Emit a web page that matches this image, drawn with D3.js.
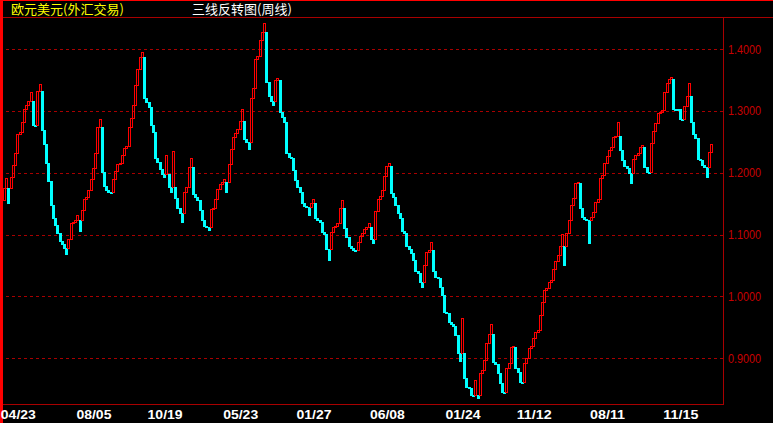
<!DOCTYPE html>
<html><head><meta charset="utf-8">
<script src="https://cdn.jsdelivr.net/npm/d3@7"></script>
<style>html,body{margin:0;padding:0;background:#000;overflow:hidden}</style>
</head><body>
<svg id="c" width="773" height="423"></svg>
<script>
// Three-line-break closes (weekly EUR/USD), in drawing order
const closes = [
1.1751,1.1913,1.1508,1.1939,1.2128,1.2317,1.2625,1.2657,1.2819,1.3029,
1.3099,1.3163,1.3309,1.2775,1.2764,1.3325,1.3438,1.2694,1.2463,1.2165,
1.1869,1.1481,1.1265,1.1157,1.1023,1.0898,1.0849,1.0780,1.0692,1.0926,
1.1194,1.1210,1.1238,1.1319,1.1060,1.1400,1.1578,1.1605,1.1723,1.1896,
1.2074,1.2327,1.2738,1.2867,1.2019,1.1793,1.1723,1.1696,1.1680,1.1896,
1.2031,1.2144,1.2155,1.2290,1.2408,1.2435,1.2738,1.2884,1.3099,1.3422,
1.3676,1.3871,1.3951,1.3207,1.3142,1.3062,1.2775,1.2667,1.2246,1.2171,
1.2058,1.1982,1.1939,1.2290,1.1777,1.1696,1.2354,1.1599,1.1437,1.1346,
1.1210,1.1686,1.1767,1.2091,1.2236,1.1654,1.1615,1.1561,1.1400,1.1238,
1.1146,1.1129,1.1076,1.1416,1.1427,1.1573,1.1739,1.1820,1.1858,1.1896,
1.1696,1.2144,1.2387,1.2576,1.2650,1.2705,1.2835,1.3029,1.2544,1.2505,
1.2392,1.3207,1.3369,1.3838,1.3892,1.4150,1.4285,1.4426,1.3476,1.3244,
1.3168,1.3099,1.3503,1.3531,1.2990,1.2900,1.2819,1.2317,1.2262,1.2236,
1.2047,1.1885,1.1777,1.1696,1.1508,1.1469,1.1453,1.1319,1.1508,1.1573,
1.1265,1.1238,1.1210,1.1049,1.1006,1.0764,1.0591,1.1049,1.1129,1.1146,
1.1184,1.1427,1.1561,1.1104,1.0958,1.0822,1.0780,1.0752,1.0741,1.0877,
1.0979,1.1023,1.1087,1.1120,1.1184,1.0930,1.0871,1.1384,1.1573,1.1626,
1.1723,1.1950,1.2112,1.2155,1.1670,1.1615,1.1481,1.1356,1.1265,1.1065,
1.1023,1.0822,1.0764,1.0699,1.0591,1.0417,1.0375,1.0239,1.0158,1.0510,
1.0725,1.0752,1.0877,1.0413,1.0311,1.0294,1.0158,1.0024,0.9754,0.9738,
0.9592,0.9555,0.9523,0.9377,0.9081,0.8961,0.9647,0.8676,0.8540,0.8524,
0.8406,0.8390,0.8649,0.8362,0.8757,0.8811,0.8973,0.9243,0.9393,0.9555,
0.8945,0.8908,0.8757,0.8595,0.8460,0.8447,0.8838,0.8919,0.9188,0.9199,
0.8838,0.8773,0.8621,0.8605,0.8919,0.9000,0.9162,0.9199,0.9324,0.9430,
0.9458,0.9701,0.9916,1.0105,1.0133,1.0239,1.0267,1.0440,1.0579,1.0671,
1.0817,1.1006,1.0510,1.1023,1.1238,1.1481,1.1589,1.1832,1.1858,1.1427,
1.1281,1.1254,1.1238,1.0866,1.1291,1.1372,1.1524,1.1573,1.1913,1.1966,
1.2165,1.2273,1.2371,1.2424,1.2586,1.2597,1.2828,1.2371,1.2209,1.2112,
1.2084,1.1994,1.1832,1.2220,1.2285,1.2317,1.2414,1.2447,1.2100,1.2019,
1.2003,1.2479,1.2683,1.2803,1.2964,1.2985,1.3013,1.3304,1.3460,1.3524,
1.3557,1.3039,1.3034,1.3029,1.2867,1.2862,1.3082,1.3244,1.3450,1.2824,
1.2629,1.2560,1.2220,1.2209,1.2128,1.2100,1.1939,1.2343,1.2463
];
const firstOpen = 1.1561;
const yTicks = [0.9, 1.0, 1.1, 1.2, 1.3, 1.4];
const xTickLabels = ["04/23","08/05","10/19","05/23","01/27","06/08","01/24","11/12","08/11","11/15"];
const xTickIndex = [6, 40, 72, 106, 139, 172, 206, 238, 271, 304];
const titleLeft = "欧元美元(外汇交易)";
const titleMid = "三线反转图(周线)";

// build bricks with three-line-break opening rule
const bricks = [];
closes.forEach((c, i) => {
  let o;
  if (i === 0) o = firstOpen;
  else {
    const p = bricks[i - 1];
    if (p.c > p.o) o = c > p.c ? p.c : p.o;
    else o = c < p.c ? p.c : p.o;
  }
  bricks.push({ i, o, c, up: c > o });
});

const W = 773, H = 423;
const svg = d3.select("#c");
svg.append("rect").attr("width", W).attr("height", H).attr("fill", "#000");

const x = d3.scaleLinear().domain([0, closes.length - 1]).range([3, 710]);
const y = d3.scaleLinear().domain([0.8244, 1.449]).range([405, 19]);

const GRID = "#a80000";
// right axis with dashed grid
const yAxis = d3.axisRight(y).tickValues(yTicks).tickSize(-720).tickPadding(5)
  .tickFormat(d3.format(".4f"));
const gy = svg.append("g").attr("transform", "translate(723,0)").call(yAxis);
gy.select(".domain").remove();
gy.selectAll(".tick line").attr("stroke", GRID).attr("stroke-dasharray", "3,3")
  .attr("shape-rendering", "crispEdges");
gy.selectAll(".tick text").attr("fill", "#c80000").attr("font-family", "Liberation Sans")
  .attr("font-size", 12).attr("textLength", 33).attr("lengthAdjust", "spacingAndGlyphs");

// bricks
const gb = svg.append("g").attr("shape-rendering", "crispEdges");
bricks.forEach(b => {
  const bx = Math.round(x(b.i));
  const y1 = Math.round(y(Math.max(b.o, b.c)));
  const y2 = Math.round(y(Math.min(b.o, b.c)));
  if (b.up) {
    gb.append("rect").attr("x", bx + 0.5).attr("y", y1 + 0.5)
      .attr("width", 2).attr("height", Math.max(1, y2 - y1))
      .attr("fill", "none").attr("stroke", "#ff0000").attr("stroke-width", 1);
  } else {
    gb.append("rect").attr("x", bx).attr("y", y1)
      .attr("width", 3).attr("height", Math.max(2, y2 - y1 + 1))
      .attr("fill", "#00ffff");
  }
});

// frame lines
const frame = svg.append("g").attr("shape-rendering", "crispEdges");
frame.append("line").attr("x1", 0).attr("x2", W).attr("y1", 0.5).attr("y2", 0.5).attr("stroke", "#ff0000");
frame.append("line").attr("x1", 0).attr("x2", W).attr("y1", 17.5).attr("y2", 17.5).attr("stroke", GRID);
frame.append("line").attr("x1", 0).attr("x2", 723).attr("y1", 404.5).attr("y2", 404.5).attr("stroke", GRID);
frame.append("line").attr("x1", 723.5).attr("x2", 723.5).attr("y1", 17).attr("y2", 405).attr("stroke", GRID);

// x axis labels
const xAxis = d3.axisBottom(x).tickValues(xTickIndex).tickSize(0).tickPadding(5)
  .tickFormat((d, k) => xTickLabels[k]);
const gx = svg.append("g").attr("transform", "translate(1.5,405)").call(xAxis);
gx.select(".domain").remove();
gx.selectAll(".tick text").attr("fill", "#ffffff").attr("font-family", "Liberation Sans")
  .attr("font-weight", "bold").attr("font-size", 13).attr("textLength", 35)
  .attr("lengthAdjust", "spacingAndGlyphs");

// left red bar
frame.append("rect").attr("x", 0).attr("y", 0).attr("width", 3).attr("height", H).attr("fill", "#ff0000");

// titles
svg.append("text").attr("x", 11).attr("y", 14).attr("fill", "#ffff00")
  .attr("font-family", "Noto Sans CJK SC").attr("font-size", 13).text(titleLeft);
svg.append("text").attr("x", 192).attr("y", 14).attr("fill", "#ffffff")
  .attr("font-family", "Noto Sans CJK SC").attr("font-size", 13).text(titleMid);
</script>
</body></html>
